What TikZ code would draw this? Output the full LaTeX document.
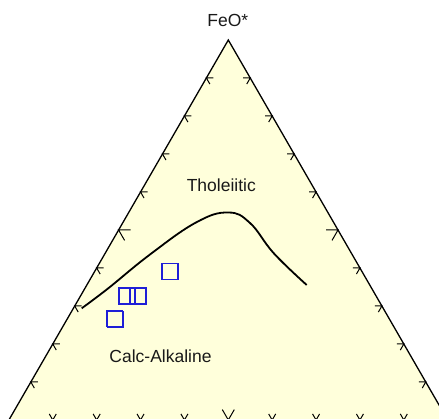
\documentclass[tikz,border=0pt]{standalone}
\usepackage{fontspec}
\setmainfont{Liberation Sans}
\usetikzlibrary{calc}
\definecolor{fillyel}{RGB}{255,255,219}
\definecolor{sqblue}{RGB}{30,30,215}
\tikzset{
  edge/.style={line width=1.3pt, black},
  tickmark/.style={line width=1pt, black},
  lbl/.style={font=\fontsize{17.5}{20}\selectfont, text=black!90, anchor=base, inner sep=0pt},
  sample/.style={draw=sqblue, line width=1.2pt, minimum size=16pt, inner sep=0pt, rectangle},
  trend/.style={line width=1.8pt, black}
}
\begin{document}
\begin{tikzpicture}[x=1pt,y=-1pt]
\useasboundingbox (0,0) rectangle (439,419);
\clip (0,0) rectangle (439,419);
\coordinate (A) at (228.3,40);
\coordinate (B) at (8.9,420);
\coordinate (C) at (447.7,420);
\fill[fillyel] (A) -- (B) -- (C) -- cycle;
\draw[edge] (B) -- (A) -- (C);
\draw[edge] (B) -- (C);
\foreach \k in {1,...,9} {
  \pgfmathsetmacro\L{ifthenelse(\k==5,12,7)}
  \coordinate (pl) at ($(A)!\k/10!(B)$);
  \coordinate (pr) at ($(A)!\k/10!(C)$);
  \coordinate (pb) at ($(B)!\k/10!(C)$);
  \draw[tickmark] ($(pl)+(0:\L)$) -- (pl) -- ($(pl)+(60:\L)$);
  \draw[tickmark] ($(pr)+(180:\L)$) -- (pr) -- ($(pr)+(120:\L)$);
  \draw[tickmark] ($(pb)+(240:\L)$) -- (pb) -- ($(pb)+(300:\L)$);
}
\node[lbl] (feo) at (227.8,26.7) {FeO*};
\node[lbl] (thol) at (221.3,191.7) {Tholeiitic};
\node[lbl] (calc) at (160.5,362.3) {Calc-Alkaline};
\draw[trend] plot[smooth, tension=0.7] coordinates {(81.7,308.3) (108,288.5) (150,254.5) (196,222.5) (228,212.5) (250,223) (274,253.5) (306.7,285)};
\node[sample] (s1) at (170,271.7) {};
\node[sample] (s2) at (127,296) {};
\node[sample] (s3) at (138,296) {};
\node[sample] (s4) at (114.3,318.6) {};
\node[sample] (s5) at (115.2,319.4) {};
\end{tikzpicture}
\end{document}
